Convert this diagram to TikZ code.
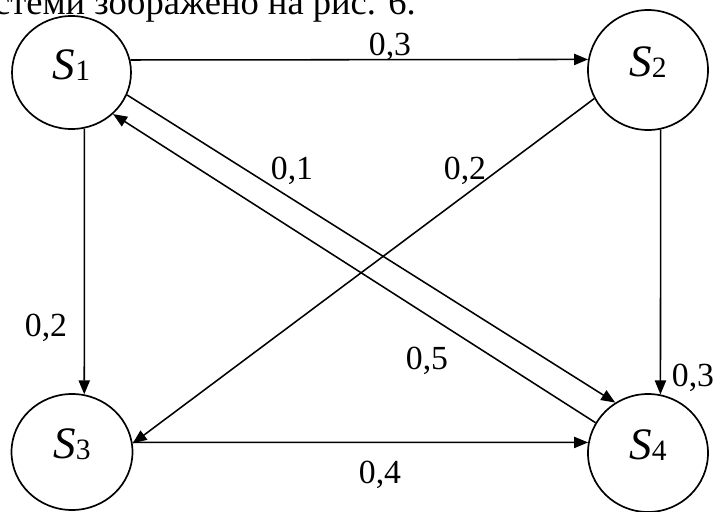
\documentclass[tikz,border=0pt]{standalone}
\usepackage{fontspec}
\setmainfont{Liberation Serif}[ItalicFont={Liberation Serif Italic}]
\usetikzlibrary{shapes.geometric}
\usetikzlibrary{arrows.meta}
\newcommand{\st}[1]{\textit{S}\raisebox{-0.6pt}{\fontsize{21}{21}\selectfont #1}}

\begin{document}
\begin{tikzpicture}[x=0.25mm, y=-0.25mm,
    every node/.style={font=\fontsize{24}{28}\selectfont},
    state/.style={draw, ellipse, line width=1.2pt, inner sep=0pt, font=\fontsize{32}{36}\selectfont},
    wlbl/.style={inner sep=0pt, text depth=0pt},
    arr/.style={-{Triangle[length=10pt,width=8pt]}, line width=1.1pt}]
    \useasboundingbox (0,0) rectangle (720,512);
    \begin{scope}
        \clip (0,0) rectangle (720,512);
        \node[anchor=base east, inner sep=0pt, font=\fontsize{26}{30}\selectfont] (cap) at (416,14) {системи зображено на рис. 6.};
    \end{scope}
    \foreach \n/\x/\y/\w/\h in {1/71.5/72.5/29.75/28.25, 2/648/70/30/30, 3/72/452/30.25/29, 4/648/453/30/29.5} {
        \node[state, minimum width=\w mm, minimum height=\h mm] (S\n) at (\x,\y) {\raisebox{4mm}{\st{\n}}};
    }
    \foreach \a/\b in {S1.12/S2.170, S3.9/S4.170, S1.-77/S3.78, S2.-78/S4.78, S1.-22/S4.123, S4.150/S1.-45, S2.208/S3.8} {
        \draw[arr] (\a) -- (\b);
    }
    \foreach \nm/\x/\y/\t in {w12/390/44/{0,3}, w13/46/325/{0,2}, w24/693/375/{0,3}, w34/380/472/{0,4}, w14/292/168/{0,1}, w23/465/168/{0,2}, w41/427/358/{0,5}} {
        \node[wlbl] (\nm) at (\x,\y) {\t};
    }
\end{tikzpicture}
\end{document}
